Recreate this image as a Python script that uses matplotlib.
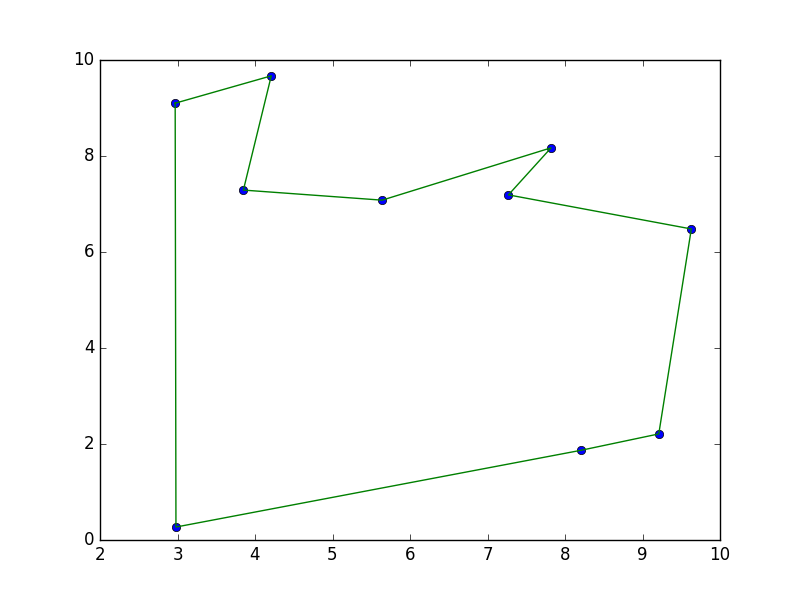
import matplotlib
matplotlib.use("Agg")
import matplotlib.pyplot as plt

plt.style.use("classic")

# Path of points (tour order), closed loop
x_vals = [2.97, 4.21, 3.85, 5.64, 7.82, 7.27, 9.63, 9.21, 8.21, 2.98]
y_vals = [9.10, 9.67, 7.29, 7.08, 8.17, 7.19, 6.48, 2.21, 1.87, 0.27]

xs = x_vals + [x_vals[0]]
ys = y_vals + [y_vals[0]]

fig = plt.figure(figsize=(8, 6), dpi=100)
ax = fig.add_subplot(111)
ax.plot(x_vals, y_vals, "o", color="blue", markersize=6)
ax.plot(xs, ys, "-", color="green")
ax.set_xlim(2, 10)
ax.set_ylim(0, 10)
fig.savefig("out.png", dpi=100)
